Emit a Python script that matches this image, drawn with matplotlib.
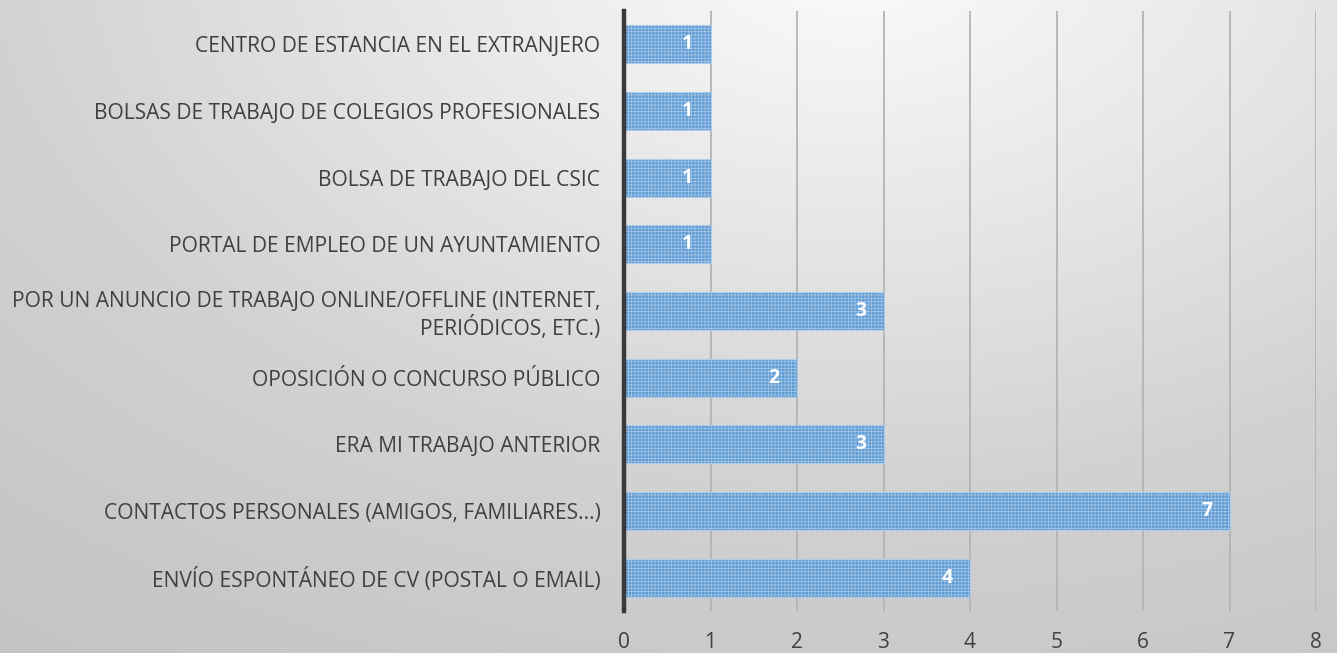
import numpy as np
import matplotlib
matplotlib.use("Agg")
import matplotlib.pyplot as plt

categories = [
    "ENVÍO ESPONTÁNEO DE CV (POSTAL O EMAIL)",
    "CONTACTOS PERSONALES (AMIGOS, FAMILIARES...)",
    "ERA MI TRABAJO ANTERIOR",
    "OPOSICIÓN O CONCURSO PÚBLICO",
    "POR UN ANUNCIO DE TRABAJO ONLINE/OFFLINE (INTERNET,\nPERIÓDICOS, ETC.)",
    "PORTAL DE EMPLEO DE UN AYUNTAMIENTO",
    "BOLSA DE TRABAJO DEL CSIC",
    "BOLSAS DE TRABAJO DE COLEGIOS PROFESIONALES",
    "CENTRO DE ESTANCIA EN EL EXTRANJERO",
]
values = [4, 7, 3, 2, 3, 1, 1, 1, 1]
xticks = [0, 1, 2, 3, 4, 5, 6, 7, 8]

plt.rcParams['font.family'] = ['Open Sans', 'DejaVu Sans']
plt.rcParams['hatch.color'] = '#86b5e2'
plt.rcParams['hatch.linewidth'] = 0.45

W, H = 1337, 653
fig = plt.figure(figsize=(W / 100, H / 100), dpi=100)

# background radial gradient
bg = fig.add_axes([0, 0, 1, 1], zorder=-10)
yy, xx = np.mgrid[0:H, 0:W]
d = np.sqrt((xx - 850.0) ** 2 + ((yy + 50.0) * 1.6) ** 2)
v = np.interp(d, [0, 460, 855, 1207, 1406, 2000], [252, 230, 210, 200, 196, 194]) / 255.0
img = np.dstack([v, v, v])
bg.imshow(img, aspect='auto', extent=[0, 1, 0, 1], origin='upper')
bg.axis('off')

ax = fig.add_axes([624 / W, 1 - 611 / H, (1316 - 624) / W, 600 / H])
ax.set_facecolor('none')
y = np.arange(len(categories))
bars = ax.barh(y, values, height=0.571, color='#5b9bd5', edgecolor='#b0cdea',
               linewidth=0.8, hatch='+++++', zorder=3, alpha=0.95)
for yi, v_ in zip(y, values):
    ax.text(v_ - 0.2, yi, str(v_), ha='right', va='center', color='white',
            fontsize=14, fontweight='bold', zorder=4)

ax.set_xlim(0, 8)
ax.set_ylim(-0.5, len(categories) - 0.5)
ax.set_xticks(xticks)
ax.set_yticks(y)
ax.set_yticklabels(categories, fontsize=15.1, color='#404040')
ax.tick_params(axis='x', length=0, pad=15, labelsize=15, labelcolor='#404040')
ax.tick_params(axis='y', length=0, pad=17)
ax.grid(axis='x', color='#b4b4b4', linewidth=1.3, zorder=1)
for s in ['top', 'right', 'bottom']:
    ax.spines[s].set_visible(False)
ax.spines['left'].set_color('#3a3a3a')
ax.spines['left'].set_linewidth(3.2)
ax.spines['left'].set_zorder(5)
for lab in ax.get_yticklabels():
    lab.set_multialignment('right')

fig.savefig('out.png', dpi=100)
